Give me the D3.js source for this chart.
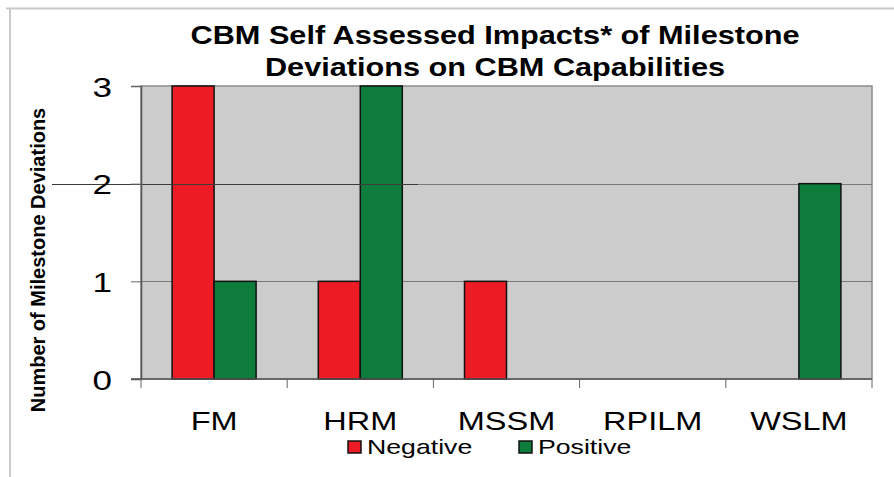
<!DOCTYPE html>
<html>
<head>
<meta charset="utf-8">
<script src="https://cdn.jsdelivr.net/npm/d3@7"></script>
<style>
  html, body { margin: 0; padding: 0; background: #fff; }
  text { font-family: Arial, "Liberation Sans", sans-serif; fill: #000; }
</style>
</head>
<body>
<svg id="chart" width="894" height="477"></svg>
<script>
// Milestone deviations per capability, split by impact
const categories = ["FM", "HRM", "MSSM", "RPILM", "WSLM"];
const seriesNames = ["Negative", "Positive"];
const negative = [3, 1, 1, 0, 0];
const positive = [1, 3, 0, 0, 2];
const yTicks = [0, 1, 2, 3];
const titleLines = ["CBM Self Assessed Impacts* of Milestone", "Deviations on CBM Capabilities"];
const yTitle = "Number of Milestone Deviations";

const colors = { Negative: "#ED1C24", Positive: "#0E7D3C" };

const svg = d3.select("#chart");
const W = 894, H = 477;
const plot = { left: 141, right: 872, top: 86, bottom: 379 };

// Outer frame (top and left edges)
svg.append("line").attr("x1", 6).attr("x2", W).attr("y1", 8.5).attr("y2", 8.5)
  .attr("stroke", "#c9c9c9").attr("stroke-width", 2);
svg.append("line").attr("x1", 10).attr("x2", 10).attr("y1", 8).attr("y2", H)
  .attr("stroke", "#c9c9c9").attr("stroke-width", 2);

const x = d3.scaleBand().domain(categories).range([plot.left, plot.right]).padding(0);
const barW = 42;
const xSub = d3.scaleBand().domain(seriesNames)
  .range([x.bandwidth() / 2 - barW, x.bandwidth() / 2 + barW]).padding(0);
const y = d3.scaleLinear().domain([0, 3]).range([plot.bottom, plot.top]);

// Plot background
svg.append("rect")
  .attr("x", plot.left).attr("y", plot.top)
  .attr("width", plot.right - plot.left).attr("height", plot.bottom - plot.top)
  .attr("fill", "#CCCCCC").attr("stroke", "#8c8c8c").attr("stroke-width", 1.5);

// Horizontal gridlines
svg.append("g").selectAll("line").data(yTicks.filter(d => d > 0 && d < 3)).join("line")
  .attr("x1", plot.left).attr("x2", plot.right)
  .attr("y1", d => Math.round(y(d)) + 0.5).attr("y2", d => Math.round(y(d)) + 0.5)
  .attr("stroke", "#7a7a7a").attr("stroke-width", 1);

// Bars
const rows = categories.map((c, i) => ({ cat: c, Negative: negative[i], Positive: positive[i] }));
const groups = svg.append("g").selectAll("g").data(rows).join("g")
  .attr("transform", d => `translate(${x(d.cat)},0)`);
groups.selectAll("rect")
  .data(d => seriesNames.map(s => ({ key: s, value: d[s] })).filter(e => e.value > 0))
  .join("rect")
  .attr("x", d => xSub(d.key))
  .attr("y", d => y(d.value))
  .attr("width", xSub.bandwidth())
  .attr("height", d => y(0) - y(d.value))
  .attr("fill", d => colors[d.key])
  .attr("stroke", "#111").attr("stroke-width", 1.5);

// Darker rule across the left part of the chart at the 2-deviation level
svg.append("line")
  .attr("x1", 52).attr("x2", 418)
  .attr("y1", Math.round(y(2)) + 0.5).attr("y2", Math.round(y(2)) + 0.5)
  .attr("stroke", "#3c3c3c").attr("stroke-width", 1.2);

// Y axis
const yAxis = svg.append("g").attr("transform", `translate(${plot.left},0)`)
  .call(d3.axisLeft(y).tickValues(yTicks).tickSize(10).tickPadding(0).tickFormat(d3.format("d")));
yAxis.select(".domain").attr("stroke", "#555").attr("stroke-width", 1.5);
yAxis.selectAll(".tick line").attr("stroke", "#666");
yAxis.selectAll(".tick text").remove();
yAxis.selectAll(".tick").append("text")
  .attr("transform", "translate(-29,0) scale(1.25,1)")
  .attr("text-anchor", "end").attr("dy", "0.36em")
  .style("font-size", "28px").text(d => d);

// X axis: tick marks at category boundaries
const xAxisG = svg.append("g");
xAxisG.append("line").attr("x1", plot.left - 10).attr("x2", plot.right)
  .attr("y1", plot.bottom).attr("y2", plot.bottom)
  .attr("stroke", "#555").attr("stroke-width", 1.5);
const bounds = categories.map(c => x(c)).concat([x(categories[categories.length - 1]) + x.bandwidth()]);
xAxisG.selectAll("line.tk").data(bounds).join("line").attr("class", "tk")
  .attr("x1", d => d).attr("x2", d => d)
  .attr("y1", plot.bottom).attr("y2", plot.bottom + 9)
  .attr("stroke", "#666").attr("stroke-width", 1);
xAxisG.selectAll("text").data(categories).join("text")
  .attr("transform", d => `translate(${x(d) + x.bandwidth() / 2},430) scale(1.3,1)`)
  .attr("text-anchor", "middle")
  .style("font-size", "25px").text(d => d);

// Y axis title
svg.append("text")
  .attr("transform", "translate(45,260) rotate(-90)")
  .attr("text-anchor", "middle")
  .style("font-size", "20px").style("font-weight", "bold")
  .text(yTitle);

// Title
svg.append("g").selectAll("text").data(titleLines).join("text")
  .attr("transform", (d, i) => `translate(495,${44 + i * 32}) scale(1.18,1)`)
  .attr("text-anchor", "middle")
  .style("font-size", "26px").style("font-weight", "bold")
  .text(d => d);

// Legend
const legend = svg.append("g");
const legendX = { Negative: 348, Positive: 519 };
seriesNames.forEach(s => {
  const g = legend.append("g").attr("transform", `translate(${legendX[s]},0)`);
  g.append("rect").attr("x", 0).attr("y", 441).attr("width", 13).attr("height", 12)
    .attr("fill", colors[s]).attr("stroke", "#111").attr("stroke-width", 1.5);
  g.append("text").attr("transform", "translate(19,454) scale(1.27,1)")
    .style("font-size", "21px").text(s);
});
</script>
</body>
</html>
